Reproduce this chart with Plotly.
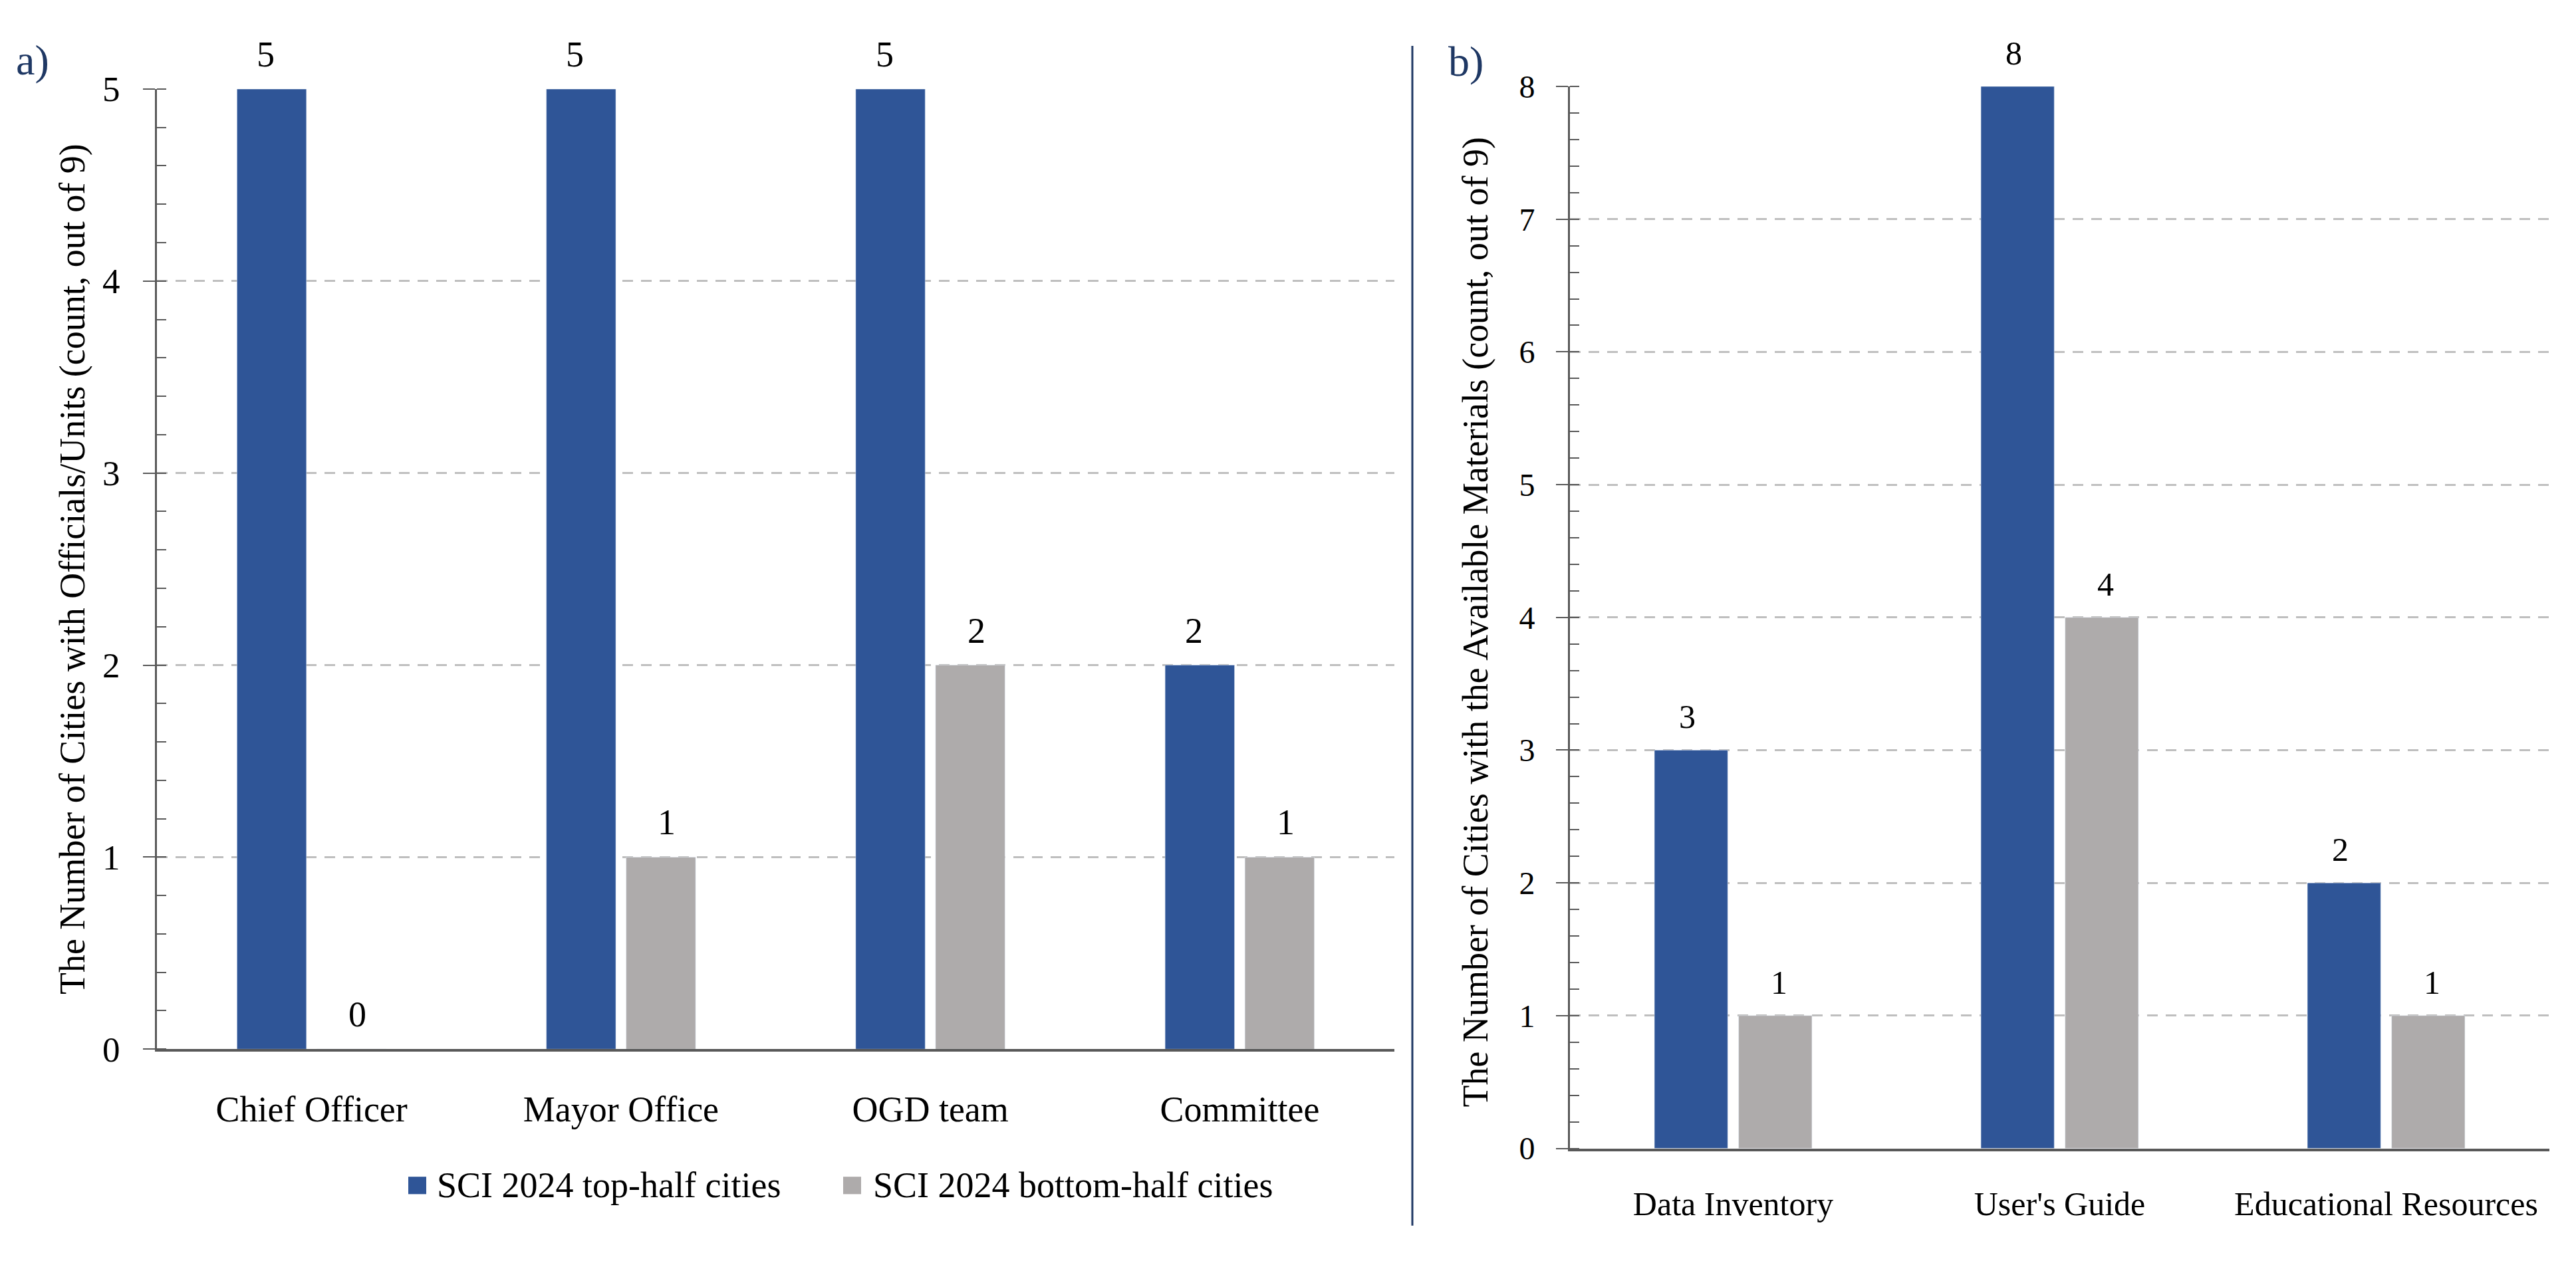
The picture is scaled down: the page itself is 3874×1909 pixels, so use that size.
import plotly.graph_objects as go

# Panel a) - officials / units
cats_a = ['Chief Officer', 'Mayor Office', 'OGD team', 'Committee']
top_a = [5, 5, 5, 2]
bottom_a = [0, 1, 2, 1]

# Panel b) - available materials
cats_b = ['Data Inventory', "User's Guide", 'Educational Resources']
top_b = [3, 8, 2]
bottom_b = [1, 4, 1]

series_names = ['SCI 2024 top-half cities', 'SCI 2024 bottom-half cities']
ytitle_a = 'The Number of Cities with Officials/Units (count, out of 9)'
ytitle_b = 'The Number of Cities with the Available Materials (count, out of 9)'

BLUE = '#2F5597'
GRAY = '#AEABAB'
NAVY = '#1F3864'
FONT = 'Liberation Serif'

# figure size (browser body keeps an 8px margin)
W, H, OFF = 3858, 1893, 8


def px(x):
    return (x - OFF) / W


def py(y):
    return 1 - (y - OFF) / H


fig = go.Figure()

fig.add_trace(go.Bar(x=cats_a, y=top_a, marker_color=BLUE, name=series_names[0],
                     xaxis='x', yaxis='y', showlegend=False))
fig.add_trace(go.Bar(x=cats_a, y=bottom_a, marker_color=GRAY, name=series_names[1],
                     xaxis='x', yaxis='y', showlegend=False))
fig.add_trace(go.Bar(x=cats_b, y=top_b, marker_color=BLUE, name=series_names[0],
                     xaxis='x2', yaxis='y2', showlegend=False))
fig.add_trace(go.Bar(x=cats_b, y=bottom_b, marker_color=GRAY, name=series_names[1],
                     xaxis='x2', yaxis='y2', showlegend=False))

# value labels above each bar
annotations = []
for xref, yref, cats, top, bottom, size in [('x', 'y', cats_a, top_a, bottom_a, 54),
                                            ('x2', 'y2', cats_b, top_b, bottom_b, 50)]:
    for c, t, b in zip(cats, top, bottom):
        for v, shift in [(t, -69), (b, 69)]:
            annotations.append(dict(x=c, y=v, xref=xref, yref=yref, text=str(v),
                                    showarrow=False, xshift=shift, yshift=20,
                                    yanchor='bottom', font=dict(size=size, color='black')))

# panel letters
annotations.append(dict(x=px(22), y=py(64), xref='paper', yref='paper', text='a)',
                        showarrow=False, xanchor='left', yanchor='middle',
                        font=dict(size=64, color=NAVY)))
annotations.append(dict(x=px(2176), y=py(66), xref='paper', yref='paper', text='b)',
                        showarrow=False, xanchor='left', yanchor='middle',
                        font=dict(size=64, color=NAVY)))

# y axis titles
annotations.append(dict(x=px(77), y=py(854), xref='paper', yref='paper', text=ytitle_a,
                        showarrow=False, textangle=-90, font=dict(size=54, color='black')))
annotations.append(dict(x=px(2219), y=py(936), xref='paper', yref='paper', text=ytitle_b,
                        showarrow=False, textangle=-90, font=dict(size=54, color='black')))

# legend drawn by hand so the swatches match the original size
shapes = []
for name, color, sx, tx in [(series_names[0], BLUE, 614, 655), (series_names[1], GRAY, 1268, 1311)]:
    shapes.append(dict(type='rect', xref='paper', yref='paper', x0=px(sx), x1=px(sx + 27),
                       y0=py(1824), y1=py(1797), fillcolor=color, line_width=0))
    annotations.append(dict(x=px(tx), y=py(1810), xref='paper', yref='paper', text=name,
                            showarrow=False, xanchor='left', yanchor='middle',
                            font=dict(size=54, color='black')))

# vertical divider between panels
shapes.append(dict(type='line', xref='paper', yref='paper', x0=px(2124), x1=px(2124),
                   y0=py(42), y1=py(1873), line=dict(color=NAVY, width=3)))

yaxis_common = dict(showline=True, linecolor='#595959', linewidth=3,
                    ticks='outside', ticklen=18, tickwidth=2, tickcolor='#595959',
                    minor=dict(ticks='inside', ticklen=14, tickwidth=2, tickcolor='#595959', dtick=0.2),
                    showgrid=True, gridcolor='#BFBFBF', gridwidth=3, griddash='16px,12px',
                    zeroline=False, dtick=1)
xaxis_common = dict(showline=True, linecolor='#595959', linewidth=4, ticks='',
                    showgrid=False, zeroline=False)

fig.update_layout(
    width=W, height=H,
    margin=dict(l=0, r=0, t=0, b=0),
    plot_bgcolor='white', paper_bgcolor='white',
    font=dict(family=FONT, color='black'),
    barmode='group', bargap=0.484, bargroupgap=0.13,
    xaxis=dict(domain=[px(236), px(2097)], anchor='y', tickfont=dict(size=54, color='black'),
               ticklabelstandoff=40, **xaxis_common),
    yaxis=dict(domain=[py(1599), py(109)], anchor='x', range=[0, 5],
               tickfont=dict(size=53, color='black'), ticklabelstandoff=24, **yaxis_common),
    xaxis2=dict(domain=[px(2361), px(3834)], anchor='y2', tickfont=dict(size=50, color='black'),
                ticklabelstandoff=36, **xaxis_common),
    yaxis2=dict(domain=[py(1753), py(105)], anchor='x2', range=[0, 8],
                tickfont=dict(size=48, color='black'), ticklabelstandoff=22, **yaxis_common),
    annotations=annotations,
    shapes=shapes,
)

fig.write_html('out.html')
